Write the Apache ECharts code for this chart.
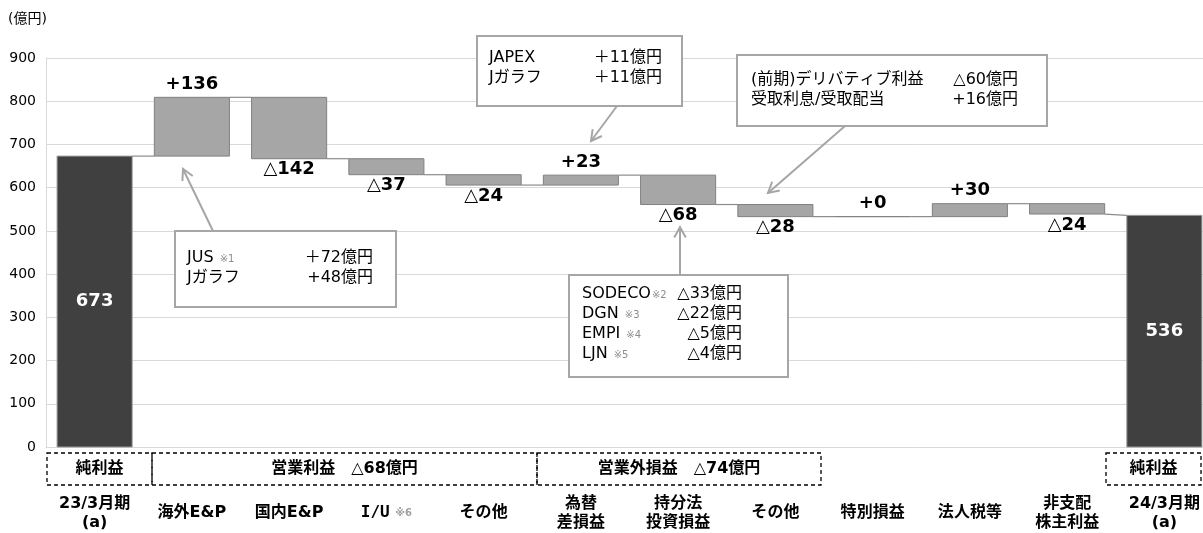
<!DOCTYPE html>
<html>
<head>
<meta charset="utf-8">
<script src="https://cdn.jsdelivr.net/npm/echarts@6/dist/echarts.min.js"></script>
<style>
  html, body { margin: 0; padding: 0; background: #fff; }
  #chart { width: 1203px; height: 533px; }
</style>
</head>
<body>
<div id="chart"></div>
<script>
// 純利益 増減要因 (23/3月期 → 24/3月期), 単位: 億円
const categories = ['23/3月期\n(a)', '海外E&P', '国内E&P', 'I/U', 'その他', '為替\n差損益',
  '持分法\n投資損益', 'その他', '特別損益', '法人税等', '非支配\n株主利益', '24/3月期\n(a)'];
const categoryNotes = ['', '', '', '※6', '', '', '', '', '', '', '', ''];
const openingNetIncome = 673;
const closingNetIncome = 536;
const changes = [136, -142, -37, -24, 23, -68, -28, 0, 30, -24];
const groupLabels = ['純利益', '営業利益　△68億円', '営業外損益　△74億円', '純利益'];

// callout contents: [label, footnote, amount]
const overseasDetail = [['JUS ', '※1', '＋72億円'], ['Jガラフ', '', '+48億円']];
const fxDetail = [['JAPEX', '', '＋11億円'], ['Jガラフ', '', '＋11億円']];
const otherDetail = [['(前期)デリバティブ利益', '', '△60億円'], ['受取利息/受取配当', '', '+16億円']];
const equityDetail = [['SODECO', '※2', '△33億円'], ['DGN ', '※3', '△22億円'],
  ['EMPI ', '※4', '△5億円'], ['LJN ', '※5', '△4億円']];

const FONT = "'DejaVu Sans', 'Noto Sans CJK JP', sans-serif";

// rows: [x, low, high, kind(0 total / 1 change), value, enterLevel, exitLevel]
const rows = [];
rows.push([0, 0, openingNetIncome, 0, openingNetIncome, openingNetIncome, openingNetIncome]);
let level = openingNetIncome;
changes.forEach(function (d, k) {
  const next = level + d;
  rows.push([k + 1, Math.min(level, next), Math.max(level, next), 1, d, level, next]);
  level = next;
});
rows.push([categories.length - 1, 0, closingNetIncome, 0, closingNetIncome, closingNetIncome, closingNetIncome]);

function renderBridge(params, api) {
  const i = params.dataIndex;
  const x = api.value(0), lo = api.value(1), hi = api.value(2);
  const kind = api.value(3), v = api.value(4), exit = api.value(6);
  const band = api.size([1, 0])[0];
  const w = band * 0.772;
  const top = api.coord([x, hi]);
  const bot = api.coord([x, lo]);
  const cx = top[0];
  const children = [{
    type: 'rect',
    shape: { x: cx - w / 2, y: top[1], width: w, height: bot[1] - top[1] },
    style: kind ? { fill: '#a6a6a6', stroke: '#808080', lineWidth: 1 }
                : { fill: '#404040', stroke: '#9a9a9a', lineWidth: 1 }
  }];
  if (i < rows.length - 1) {
    const a = api.coord([x, exit]);
    const b = api.coord([x + 1, rows[i + 1][5]]);
    children.push({
      type: 'line',
      shape: { x1: cx + w / 2, y1: a[1], x2: b[0] - w / 2, y2: b[1] },
      style: { stroke: '#8c8c8c', lineWidth: 1.2 }
    });
  }
  if (kind === 0) {
    children.push({
      type: 'text', x: cx, y: (top[1] + bot[1]) / 2,
      style: { text: String(v), fill: '#fff', fontFamily: FONT, fontWeight: 'bold', fontSize: 18,
               align: 'center', verticalAlign: 'middle' }
    });
  } else if (v >= 0) {
    children.push({
      type: 'text', x: cx, y: top[1] - 4,
      style: { text: '+' + v, fill: '#000', fontFamily: FONT, fontWeight: 'bold', fontSize: 18,
               align: 'center', verticalAlign: 'bottom' }
    });
  } else {
    children.push({
      type: 'text', x: cx, y: bot[1] + 2,
      style: { text: '{s|△}' + (-v), fill: '#000', fontFamily: FONT, fontWeight: 'bold', fontSize: 18,
               align: 'center', verticalAlign: 'top',
               rich: { s: { fontFamily: FONT, fontWeight: 'normal', fontSize: 18, fill: '#000' } } }
    });
  }
  return { type: 'group', children: children };
}

// ---------- annotation helpers ----------
const GRAY = '#a6a6a6';
function txt(x, y, text, extra) {
  return {
    type: 'text', x: x, y: y, z: 100,
    style: Object.assign({ text: text, fill: '#000', fontFamily: FONT, fontSize: 16,
      align: 'left', verticalAlign: 'middle' }, extra || {})
  };
}
function box(x, y, w, h) {
  return { type: 'rect', z: 90, shape: { x: x, y: y, width: w, height: h },
           style: { fill: '#fff', stroke: GRAY, lineWidth: 2 } };
}
function arrow(x1, y1, x2, y2) {
  const ang = Math.atan2(y2 - y1, x2 - x1), L = 12, s = 0.5;
  const h1 = [x2 - L * Math.cos(ang - s), y2 - L * Math.sin(ang - s)];
  const h2 = [x2 - L * Math.cos(ang + s), y2 - L * Math.sin(ang + s)];
  return [
    { type: 'line', z: 85, shape: { x1: x1, y1: y1, x2: x2, y2: y2 }, style: { stroke: GRAY, lineWidth: 2 } },
    { type: 'polyline', z: 85, shape: { points: [h1, [x2, y2], h2] }, style: { stroke: GRAY, lineWidth: 2, fill: null } }
  ];
}
const noteRich = { n: { fontFamily: FONT, fontSize: 10, fill: '#8c8c8c', padding: [3, 0, 0, 1] } };
function callout(bx, by, bw, bh, lines, leftX, rightX, firstY, gap) {
  const els = [box(bx, by, bw, bh)];
  lines.forEach(function (ln, k) {
    const y = firstY + k * gap;
    els.push(txt(leftX, y, ln[0] + (ln[1] ? '{n|' + ln[1] + '}' : ''), { rich: noteRich }));
    els.push(txt(rightX, y, ln[2], { align: 'right' }));
  });
  return els;
}
function dashedGroup(x1, x2, label) {
  const y1 = 453, y2 = 485;
  return [
    { type: 'rect', z: 80, shape: { x: x1, y: y1, width: x2 - x1, height: y2 - y1 },
      style: { fill: null, stroke: '#000', lineWidth: 1.3, lineDash: [4, 3] } },
    txt((x1 + x2) / 2, (y1 + y2) / 2, label.replace('△', '{s|△}'), {
      align: 'center', fontWeight: 'bold', fontSize: 16,
      rich: { s: { fontFamily: FONT, fontWeight: 'normal', fontSize: 16, fill: '#000' } }
    })
  ];
}

const graphics = [].concat(
  [txt(8, 19, '(億円)', { fontSize: 14 })],
  arrow(213, 231, 183, 169),
  callout(175, 231, 221, 76, overseasDetail, 187, 373, 258, 20),
  arrow(617, 106, 591, 141),
  callout(477, 36, 205, 70, fxDetail, 489, 662, 58, 20),
  arrow(845, 126, 768, 193),
  callout(737, 55, 310, 71, otherDetail, 751, 1018, 80, 20),
  arrow(680, 275, 680, 227),
  callout(569, 275, 219, 102, equityDetail, 582, 742, 294, 20),
  dashedGroup(47, 152, groupLabels[0]),
  dashedGroup(152, 537, groupLabels[1]),
  dashedGroup(537, 821, groupLabels[2]),
  dashedGroup(1106, 1201, groupLabels[3])
);

const chart = echarts.init(document.getElementById('chart'), null, { renderer: 'canvas' });
chart.setOption({
  animation: false,
  backgroundColor: '#fff',
  grid: { left: 46, right: -10, top: 58, bottom: 86, outerBoundsMode: 'none', containLabel: false },
  xAxis: {
    type: 'category',
    data: categories,
    boundaryGap: true,
    axisLine: { show: true, lineStyle: { color: '#d9d9d9', width: 1 } },
    axisTick: { show: false },
    splitLine: { show: false },
    axisLabel: {
      interval: 0,
      margin: 66,
      verticalAlign: 'middle',
      lineHeight: 19,
      color: '#000',
      fontFamily: FONT,
      fontWeight: 'bold',
      fontSize: 16,
      formatter: function (value, idx) {
        const note = categoryNotes[idx];
        return note ? '{m|' + value + '} {n|' + note + '}' : value;
      },
      rich: {
        m: { fontFamily: "'DejaVu Sans Mono', monospace", fontWeight: 'bold', fontSize: 16, color: '#000' },
        n: { fontFamily: FONT, fontSize: 10, color: '#a0a0a0' }
      }
    }
  },
  yAxis: {
    type: 'value',
    min: 0, max: 900, interval: 100,
    axisLine: { show: true, lineStyle: { color: '#d9d9d9', width: 1 } },
    axisTick: { show: false },
    splitLine: { show: true, lineStyle: { color: '#d9d9d9', width: 1 } },
    axisLabel: { color: '#000', fontFamily: FONT, fontSize: 14, margin: 10 }
  },
  series: [{
    type: 'custom',
    renderItem: renderBridge,
    data: rows,
    encode: { x: 0, y: [1, 2] },
    clip: false,
    z: 5
  }],
  graphic: { elements: graphics }
});
</script>
</body>
</html>
